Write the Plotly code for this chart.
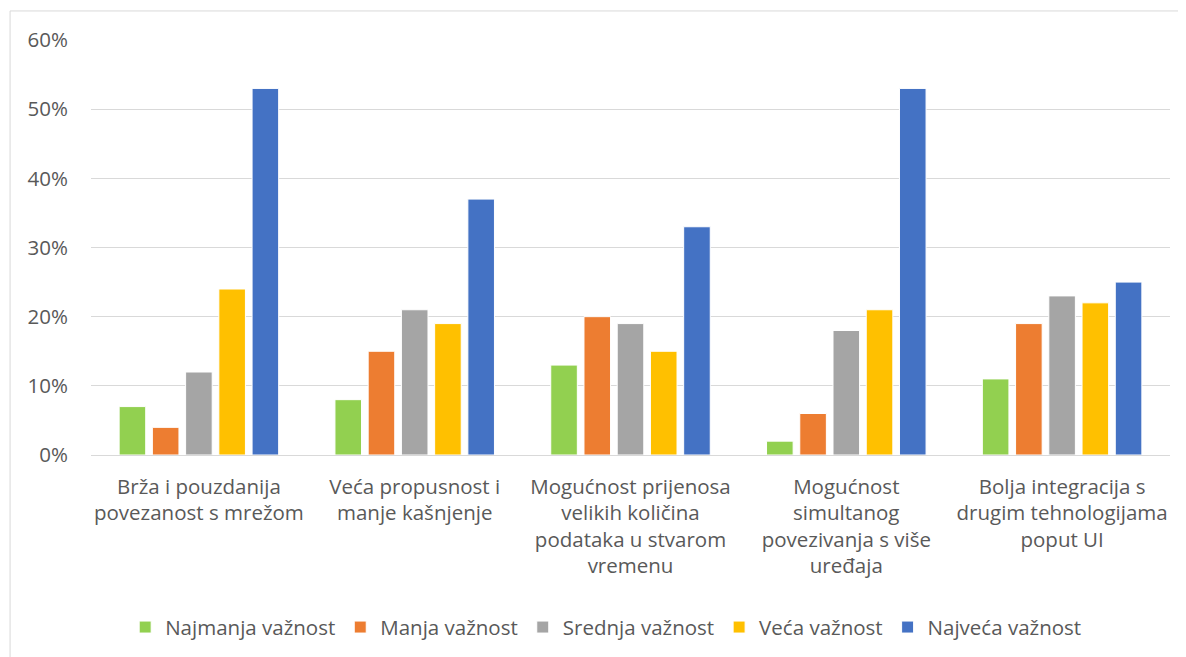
import plotly.graph_objects as go

categories = [
    "Brža i pouzdanija<br>povezanost s mrežom",
    "Veća propusnost i<br>manje kašnjenje",
    "Mogućnost prijenosa<br>velikih količina<br>podataka u stvarom<br>vremenu",
    "Mogućnost<br>simultanog<br>povezivanja s više<br>uređaja",
    "Bolja integracija s<br>drugim tehnologijama<br>poput UI",
]
series_names = ["Najmanja važnost", "Manja važnost", "Srednja važnost", "Veća važnost", "Najveća važnost"]
najmanja = [7, 8, 13, 2, 11]
manja = [4, 15, 20, 6, 19]
srednja = [12, 21, 19, 18, 23]
veca = [24, 19, 15, 21, 22]
najveca = [53, 37, 33, 53, 25]
colors = ["#92D050", "#ED7D31", "#A5A5A5", "#FFC000", "#4472C4"]
y_ticks = [0, 10, 20, 30, 40, 50, 60]
y_tick_text = ["0%", "10%", "20%", "30%", "40%", "50%", "60%"]

fig = go.Figure()
for name, vals, col in zip(series_names, [najmanja, manja, srednja, veca, najveca], colors):
    fig.add_trace(go.Bar(x=categories, y=vals, name=name,
                         marker=dict(color=col, line=dict(color="white", width=1))))

font_family = "Open Sans, Noto Sans, sans-serif"
fs = 20.5
fig.update_layout(
    width=1186, height=657,
    barmode="group", bargap=0.23, bargroupgap=0.2,
    plot_bgcolor="white", paper_bgcolor="white",
    margin=dict(l=83, r=24, t=32, b=210),
    font=dict(family=font_family, size=fs, color="#595959"),
    legend=dict(orientation="h", x=0.477, xanchor="center", y=-0.415, yanchor="middle",
                font=dict(size=fs, color="#595959"), itemwidth=30, traceorder="normal"),
    xaxis=dict(showgrid=False, showline=False, ticks="", ticklabelstandoff=17,
               tickfont=dict(size=fs, color="#595959")),
    yaxis=dict(range=[0, 60], tickmode="array", tickvals=y_ticks, ticktext=y_tick_text,
               showgrid=True, gridcolor="#D9D9D9",
               gridwidth=1, zeroline=True, zerolinecolor="#D9D9D9", zerolinewidth=1, ticks="",
               ticklabelstandoff=22, tickfont=dict(size=fs, color="#595959")),
    shapes=[dict(type="rect", xref="paper", yref="paper", x0=-0.075, x1=1.05, y0=-0.62, y1=1.07,
                 line=dict(color="#D9D9D9", width=1), fillcolor="rgba(0,0,0,0)", layer="below")],
)
fig.write_html("out.html")
